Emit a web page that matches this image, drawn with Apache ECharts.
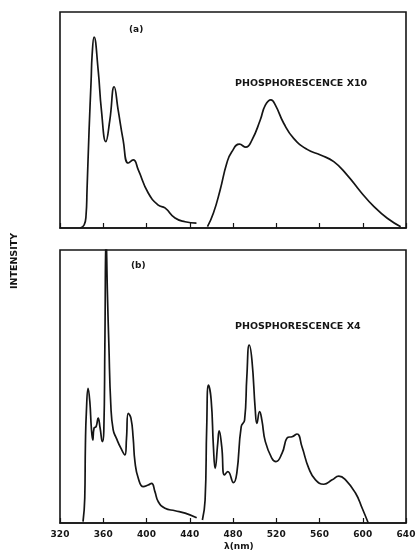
<!DOCTYPE html>
<html>
<head>
<meta charset="utf-8">
<style>
html,body{margin:0;padding:0;background:#fff;}
#c{width:420px;height:554px;}
</style>
<script src="https://cdn.jsdelivr.net/npm/echarts@6/dist/echarts.min.js"></script>
</head>
<body>
<div id="c"></div>
<script>
// ---- data ----
var xTicks = [320, 360, 400, 440, 480, 520, 560, 600, 640];

// (a) fluorescence
var aFluoX = [338.6, 342.3, 344.1, 345.0, 346.9, 348.8, 349.7, 351.5, 355.3, 358.3, 362.4, 366.1, 370.1, 373.8, 378.4, 383.1, 387.7, 392.4, 401.6, 410.9, 417.1, 426.4, 435.7, 446.2];
var aFluoY = [0, 1.4, 6, 17.6, 45.4, 68.5, 80, 88.4, 73.1, 54.6, 40, 50, 65.4, 54.6, 40.7, 30.1, 31.5, 26.9, 16.2, 10.6, 9.3, 4.6, 2.9, 2.3];
// (a) phosphorescence x10
var aPhosX = [456.4, 461.9, 468.1, 474.3, 478.9, 486.0, 491.9, 497.5, 505.2, 509.9, 515.1, 519.2, 526.9, 536.1, 548.5, 560.9, 573.2, 585.6, 598.0, 610.4, 622.7, 635.1];
var aPhosY = [0.6, 6.9, 17.6, 30.1, 35.3, 38.8, 37.4, 40.7, 50, 56.9, 59.3, 56.9, 48.5, 41.5, 36.4, 33.8, 30.7, 24.5, 16.8, 9.9, 4.5, 0.6];
// (b) fluorescence
var bFluoX = [341.3, 342.9, 343.5, 344.4, 346.0, 347.6, 349.0, 350.3, 351.5, 353.4, 355.3, 357.1, 359.2, 360.5, 361.5, 362.6, 363.9, 365.2, 367.0, 369.2, 372.2, 376.3, 380.0, 381.5, 383.1, 385.6, 387.7, 389.3, 392.4, 397.0, 401.6, 404.7, 407.8, 410.9, 417.1, 426.4, 435.7, 446.4];
var bFluoY = [0.5, 9.2, 28.6, 40.8, 49.3, 44.4, 34.8, 30.4, 34.8, 35.3, 38.4, 34.8, 29.8, 33.4, 65.2, 106, 83.5, 65.2, 43.2, 34.1, 31.0, 27.4, 24.9, 31.0, 40.2, 38.4, 31.0, 22.5, 16.4, 13.3, 13.9, 14.5, 11.5, 7.8, 5.4, 4.5, 3.6, 1.9];
// (b) phosphorescence x4
var bPhosX = [451.7, 454.2, 455.7, 457.3, 459.8, 461.9, 463.5, 465.9, 467.2, 469.6, 472.1, 475.2, 480.5, 483.5, 487.6, 490.7, 492.8, 495.0, 497.5, 500.6, 502.1, 504.6, 506.7, 509.9, 516.0, 519.7, 525.3, 530.9, 534.6, 539.2, 543.8, 550.1, 556.3, 564.0, 571.7, 577.9, 584.1, 593.4, 599.5, 605.1];
var bPhosY = [1.1, 8.4, 35.3, 50.5, 45.1, 27.9, 20.0, 29.2, 33.8, 27.9, 17.6, 18.8, 14.8, 18.2, 35.3, 37.7, 53.6, 65.2, 59.7, 41.4, 36.5, 40.8, 37.7, 29.8, 23.7, 22.5, 25.5, 31.4, 31.6, 32.6, 27.9, 20.0, 15.8, 14.2, 15.8, 17.2, 15.8, 10.9, 5.4, 0];

function pairs(xs, ys) { return xs.map(function (x, i) { return [x, ys[i]]; }); }

var chart = echarts.init(document.getElementById('c'), null, { renderer: 'canvas' });
var ink = '#151515';
var font = '"DejaVu Sans", sans-serif';

function xAx(idx, labels) {
  return {
    type: 'value', gridIndex: idx, min: xTicks[0], max: xTicks[xTicks.length - 1], interval: 40,
    axisLine: { show: true, lineStyle: { color: ink, width: 1.6 } },
    axisTick: { show: true, inside: true, length: 5, lineStyle: { color: ink, width: 1.2 } },
    splitLine: { show: false },
    axisLabel: labels ? { show: true, color: ink, fontSize: 9, fontWeight: 'bold', fontFamily: font, margin: 7 } : { show: false }
  };
}
function yAx(idx) {
  return {
    type: 'value', gridIndex: idx, min: 0, max: 100,
    axisLine: { show: false }, axisTick: { show: false }, axisLabel: { show: false }, splitLine: { show: false }
  };
}
function line(name, data, idx) {
  return {
    name: name, type: 'line', xAxisIndex: idx, yAxisIndex: idx, data: data,
    showSymbol: false, smooth: 0.5, clip: true,
    lineStyle: { color: ink, width: 1.7 }, silent: true, animation: false
  };
}

chart.setOption({
  animation: false,
  backgroundColor: '#fff',
  grid: [
    { left: 60, right: 14, top: 12, height: 216, show: true, borderColor: ink, borderWidth: 1.6 },
    { left: 60, right: 14, top: 250, height: 273, show: true, borderColor: ink, borderWidth: 1.6 }
  ],
  xAxis: [xAx(0, false), xAx(1, true)],
  yAxis: [yAx(0), yAx(1)],
  series: [
    line('a fluorescence', pairs(aFluoX, aFluoY), 0),
    line('a phosphorescence', pairs(aPhosX, aPhosY), 0),
    line('b fluorescence', pairs(bFluoX, bFluoY), 1),
    line('b phosphorescence', pairs(bPhosX, bPhosY), 1)
  ],
  graphic: [
    { type: 'text', left: 129, top: 25, style: { text: '(a)', fill: ink, font: 'bold 9px ' + font } },
    { type: 'text', left: 131, top: 261, style: { text: '(b)', fill: ink, font: 'bold 9px ' + font } },
    { type: 'text', left: 235, top: 79, style: { text: 'PHOSPHORESCENCE X10', fill: ink, font: 'bold 9.5px ' + font } },
    { type: 'text', left: 235, top: 322, style: { text: 'PHOSPHORESCENCE X4', fill: ink, font: 'bold 9.5px ' + font } },
    { type: 'text', left: 224, top: 542, style: { text: 'λ(nm)', fill: ink, font: 'bold 9px ' + font } },
    { type: 'text', x: 15, y: 261, rotation: Math.PI / 2, style: { text: 'INTENSITY', fill: ink, font: 'bold 9.5px ' + font, align: 'center', verticalAlign: 'middle' } }
  ]
});
</script>
</body>
</html>
